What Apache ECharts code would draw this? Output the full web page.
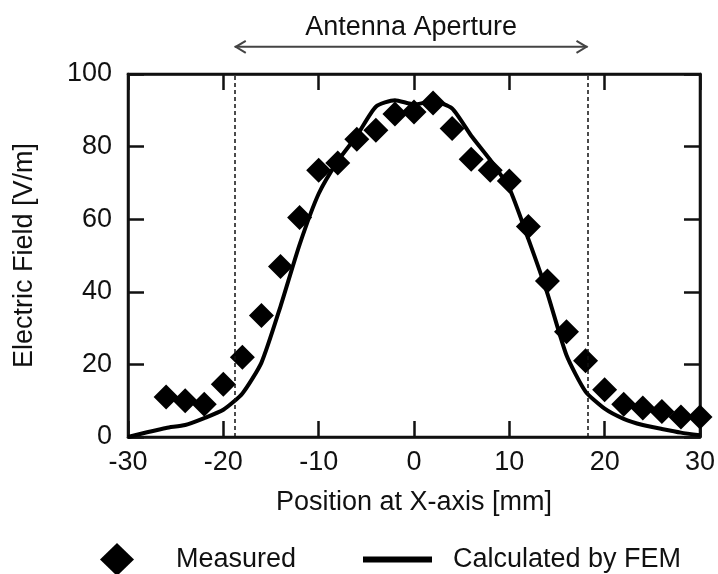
<!DOCTYPE html>
<html>
<head>
<meta charset="utf-8">
<script src="https://cdn.jsdelivr.net/npm/echarts@6/dist/echarts.min.js"></script>
<style>
  html, body { margin: 0; padding: 0; background: #fff; }
  #chart { width: 718px; height: 574px; }
</style>
</head>
<body>
<div id="chart"></div>
<script>
// measured points (mm, V/m)
var measuredX = [-26, -24, -22, -20, -18, -16, -14, -12, -10, -8, -6, -4, -2, 0,
                 2, 4, 6, 8, 10, 12, 14, 16, 18, 20, 22, 24, 26, 28, 30];
var measuredY = [11, 10, 9, 14.5, 22, 33.5, 47, 60.5, 73.5, 75.5, 82, 84.5, 89, 89.5,
                 92, 85, 76.5, 73.5, 70.5, 58, 43, 29, 21, 13, 9, 8, 7, 5.5, 5.5];

// FEM curve
var femX = [-30, -28, -26, -24, -22, -20, -18, -16, -14, -12, -10, -8, -6, -4, -2, 0,
            2, 4, 6, 8, 10, 12, 14, 16, 18, 20, 22, 24, 26, 28, 30];
var femY = [0, 1.3, 2.5, 3.3, 5.2, 7.5, 12, 20.5, 36, 53, 67, 76, 83, 91, 92.8, 91.6,
            92.5, 90.5, 83, 76.3, 68.5, 54.5, 39.5, 22.5, 12.5, 7.8, 5, 3.3, 2.2, 1.2, 0.5];

// aperture edges
var apertureEdges = [-18.8, 18.2];
var arrowLevel = 107.5;

var FONT = 'Liberation Sans, Arial, sans-serif';
var INK = '#111';

function pairs(xs, ys) {
    var out = [];
    for (var i = 0; i < xs.length; i++) out.push([xs[i], ys[i]]);
    return out;
}

var tickStyle = { show: true, inside: true, length: 16, lineStyle: { color: INK, width: 2.5 } };
var lineStyleAx = { show: true, onZero: false, lineStyle: { color: INK, width: 2.5 } };

var option = {
    backgroundColor: '#fff',
    animation: false,
    grid: {
        left: 128, right: 15, top: 74, bottom: 137,
        show: true, borderColor: INK, borderWidth: 2.5
    },
    xAxis: [{
        type: 'value', min: -30, max: 30, interval: 10,
        name: 'Position at X-axis [mm]', nameLocation: 'middle', nameGap: 52,
        nameTextStyle: { fontFamily: FONT, fontSize: 27, color: INK },
        axisLine: lineStyleAx,
        axisTick: tickStyle,
        axisLabel: { fontFamily: FONT, fontSize: 27, color: INK, margin: 12 },
        splitLine: { show: false }
    }, {
        type: 'value', min: -30, max: 30, interval: 10, position: 'top',
        axisLine: lineStyleAx,
        axisTick: tickStyle, axisLabel: { show: false }, splitLine: { show: false }
    }],
    yAxis: [{
        type: 'value', min: 0, max: 100, interval: 20,
        name: 'Electric Field [V/m]', nameLocation: 'middle', nameGap: 90,
        nameTextStyle: { fontFamily: FONT, fontSize: 27, color: INK },
        axisLine: lineStyleAx,
        axisTick: tickStyle,
        axisLabel: { fontFamily: FONT, fontSize: 27, color: INK, margin: 16 },
        splitLine: { show: false }
    }, {
        type: 'value', min: 0, max: 100, interval: 20, position: 'right',
        axisLine: lineStyleAx,
        axisTick: tickStyle, axisLabel: { show: false }, splitLine: { show: false }
    }],
    legend: [{
        data: [{ name: 'Measured', icon: 'diamond', itemStyle: { color: '#000', opacity: 1 } }],
        left: 95, top: 538, itemWidth: 34, itemHeight: 33,
        textStyle: { fontFamily: FONT, fontSize: 27, color: INK, padding: [0, 0, 0, 37] }
    }, {
        data: [{ name: 'Calculated by FEM', icon: 'rect' }],
        left: 358, top: 541, itemWidth: 69, itemHeight: 6,
        textStyle: { fontFamily: FONT, fontSize: 27, color: INK, padding: [0, 0, 0, 16] }
    }],
    series: [{
        name: 'Calculated by FEM',
        type: 'line',
        data: pairs(femX, femY),
        showSymbol: false,
        smooth: 0.2,
        clip: false,
        lineStyle: { color: '#000', width: 4 },
        itemStyle: { color: '#000' },
        z: 3,
        markLine: {
            silent: true,
            animation: false,
            symbol: ['none', 'none'],
            label: { show: false },
            lineStyle: { color: INK, width: 1.5, type: [4, 3] },
            data: apertureEdges.map(function (v) { return { xAxis: v }; })
        }
    }, {
        name: 'Measured',
        type: 'scatter',
        data: pairs(measuredX, measuredY),
        symbol: 'diamond',
        symbolSize: 25,
        itemStyle: { color: '#000', opacity: 1 },
        z: 4
    }]
};

var chart = echarts.init(document.getElementById('chart'));
chart.setOption(option);

// "Antenna Aperture" arrow above the plot, placed through the axes
var pL = chart.convertToPixel({ gridIndex: 0 }, [apertureEdges[0], arrowLevel]);
var pR = chart.convertToPixel({ gridIndex: 0 }, [apertureEdges[1], arrowLevel]);
var arrowStyle = { stroke: '#444', lineWidth: 2, fill: null };
chart.setOption({
    graphic: [{
        type: 'line', shape: { x1: pL[0], y1: pL[1], x2: pR[0], y2: pR[1] }, style: arrowStyle
    }, {
        type: 'polyline', shape: { points: [[pL[0] + 11, pL[1] - 6], [pL[0] + 1, pL[1]], [pL[0] + 11, pL[1] + 6]] },
        style: arrowStyle
    }, {
        type: 'polyline', shape: { points: [[pR[0] - 11, pR[1] - 6], [pR[0] - 1, pR[1]], [pR[0] - 11, pR[1] + 6]] },
        style: arrowStyle
    }, {
        type: 'text', x: (pL[0] + pR[0]) / 2, y: pL[1] - 6,
        style: {
            text: 'Antenna Aperture', fontFamily: FONT, fontSize: 27, fill: INK,
            align: 'center', verticalAlign: 'bottom'
        }
    }]
});
</script>
</body>
</html>
